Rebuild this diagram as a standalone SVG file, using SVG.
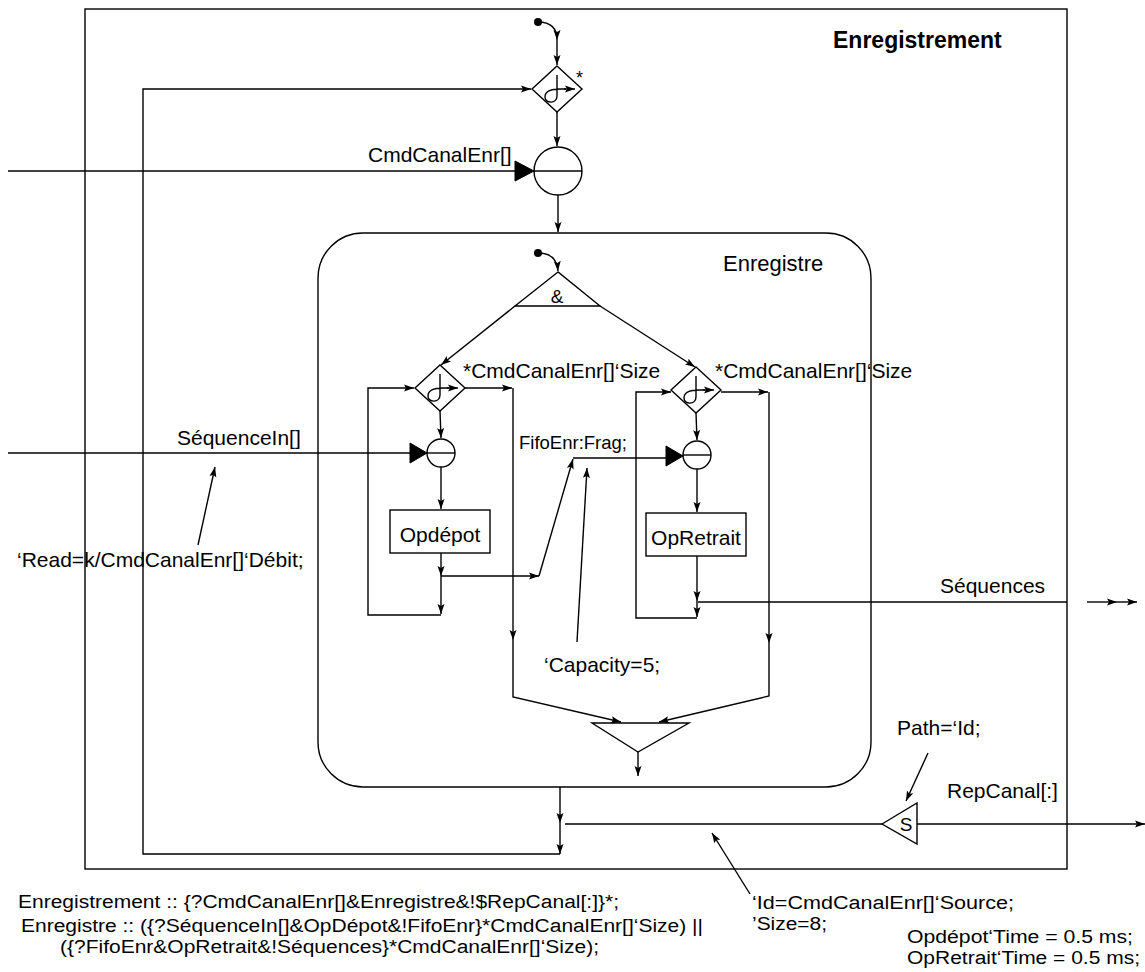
<svg xmlns="http://www.w3.org/2000/svg" width="1145" height="972" viewBox="0 0 1145 972">
  <defs>
    <marker id="arr" markerUnits="userSpaceOnUse" markerWidth="11" markerHeight="8" refX="10" refY="4" orient="auto">
      <path d="M0,0.5 L10,4 L0,7.5 L2,4 z" fill="#000"/>
    </marker>
  </defs>
  <style>
    .ln{fill:none;stroke:#000;stroke-width:1.4}
    .sh{fill:#fff;stroke:#000;stroke-width:1.4}
    .a{marker-end:url(#arr)}
    .fill{fill:#000;stroke:#000;stroke-width:1}
    text{font-family:"Liberation Sans",Arial,Helvetica,sans-serif;font-size:21px;fill:#000}
    .mid{text-anchor:middle}
    .sm{font-size:18px}
  </style>
  <rect width="1145" height="972" fill="#fff"/>

  <!-- outer process -->
  <g id="enregistrement">
    <rect class="ln" x="85" y="9" width="982" height="860"/>
    <text x="833" y="48" style="font-weight:bold;font-size:23px">Enregistrement</text>
  </g>

  <!-- inner process -->
  <g id="enregistre">
    <rect class="ln" x="318" y="233" width="553" height="554" rx="45" ry="45"/>
    <text x="723" y="271" style="font-size:22px">Enregistre</text>
  </g>

  <g id="connectors">
    <!-- outer start and iteration loop -->
    <path class="ln a" d="M538,22 C550,22 557,28 557,40"/>
    <path class="ln a" d="M557,40 L557,65"/>
    <path class="ln a" d="M560,854 L143,854 L143,89 L531,89"/>
    <path class="ln a" d="M557,112 L557,146"/>
    <path class="ln" d="M8,171 L515,171"/>
    <path class="ln a" d="M558,195 L558,232"/>
    <path class="ln a" d="M560,787 L560,823"/>
    <path class="ln a" d="M560,823 L560,854"/>

    <!-- inner start and split -->
    <path class="ln a" d="M538,253 C550,253 557,258 558,271"/>
    <path class="ln a" d="M515,306 L441,365"/>
    <path class="ln a" d="M600,306 L695,367"/>

    <!-- deposit branch -->
    <path class="ln a" d="M465,388 L512,388"/>
    <path class="ln a" d="M513,388 L513,640"/>
    <path class="ln a" d="M513,640 L513,697 L621,722"/>
    <path class="ln a" d="M440,411 L441,438"/>
    <path class="ln" d="M8,453 L410,453"/>
    <path class="ln a" d="M441,467 L441,509"/>
    <path class="ln a" d="M441,553 L441,576"/>
    <path class="ln a" d="M441,576 L441,614"/>
    <path class="ln a" d="M441,615 L368,615 L368,388 L414,388"/>
    <path class="ln a" d="M441,576 L539,576"/>
    <path class="ln a" d="M539,576 L573,459"/>
    <path class="ln" d="M573,458 L666,458"/>

    <!-- withdrawal branch -->
    <path class="ln a" d="M721,392 L768,392"/>
    <path class="ln a" d="M769,392 L769,643"/>
    <path class="ln a" d="M769,643 L769,696 L659,722"/>
    <path class="ln a" d="M696,413 L697,440"/>
    <path class="ln a" d="M697,469 L697,512"/>
    <path class="ln a" d="M697,556 L697,601"/>
    <path class="ln a" d="M697,601 L697,617"/>
    <path class="ln a" d="M697,618 L636,618 L636,392 L671,392"/>
    <path class="ln" d="M698,602 L1067,602"/>
    <path class="ln a" d="M1087,602 L1117,602"/>
    <path class="ln a" d="M1117,602 L1137,602"/>

    <!-- join -->
    <path class="ln a" d="M638,752 L638,776"/>

    <!-- reply channel -->
    <path class="ln a" d="M917,824 L1145,824"/>
    <path class="ln" d="M882,824 L565,824"/>

    <!-- annotation pointers -->
    <path class="ln a" d="M198,545 L215,467"/>
    <path class="ln a" d="M577,642 L587,468"/>
    <path class="ln a" d="M928,753 L906,801"/>
    <path class="ln a" d="M750,894 L712,833"/>
  </g>

  <!-- start markers -->
  <g id="start-outer"><circle cx="538" cy="22" r="4" fill="#000"/></g>
  <g id="start-inner"><circle cx="538" cy="253" r="4" fill="#000"/></g>

  <!-- outer iteration -->
  <g id="loop-outer">
    <polygon class="sh" points="557,66 582,89 557,112 532,89"/>
    <path class="ln" d="M557,75 L557,96 C557,104 545,104 545,97 C545,91 552,89 560,89 L566,89"/>
    <path class="ln a" d="M564,89 L575,89"/>
    <text x="576" y="84" style="font-size:18px">*</text>
  </g>

  <!-- command reception -->
  <g id="recv-cmd">
    <circle class="sh" cx="558" cy="171" r="24"/>
    <path class="ln" d="M534,171 L582,171"/>
    <polygon class="fill" points="515,161 534,171 515,181"/>
    <text x="368" y="162">CmdCanalEnr[]</text>
  </g>

  <!-- parallel split -->
  <g id="split">
    <polygon class="sh" points="558,272 515,306 600,306"/>
    <text class="mid" x="557" y="303" style="font-size:19px">&amp;</text>
  </g>

  <!-- deposit iteration -->
  <g id="loop-depot">
    <polygon class="sh" points="440,365 465,388 440,411 415,388"/>
    <path class="ln" d="M440,374 L440,395 C440,403 428,403 428,396 C428,390 435,388 443,388 L449,388"/>
    <path class="ln a" d="M447,388 L458,388"/>
    <text x="463" y="378">*CmdCanalEnr[]‘Size</text>
  </g>

  <g id="recv-seq">
    <circle class="sh" cx="441" cy="453" r="14"/>
    <path class="ln" d="M427,453 L455,453"/>
    <polygon class="fill" points="410,443 427,453 410,463"/>
    <text x="177" y="445">SéquenceIn[]</text>
  </g>

  <g id="opdepot">
    <rect class="sh" x="390" y="510" width="100" height="43"/>
    <text class="mid" x="440" y="542">Opdépot</text>
  </g>

  <!-- withdrawal iteration -->
  <g id="loop-retrait">
    <polygon class="sh" points="696,367 721,390 696,413 671,390"/>
    <path class="ln" d="M696,376 L696,397 C696,405 684,405 684,398 C684,392 691,390 699,390 L705,390"/>
    <path class="ln a" d="M703,390 L714,390"/>
    <text x="715" y="378">*CmdCanalEnr[]‘Size</text>
  </g>

  <g id="recv-fifo">
    <circle class="sh" cx="697" cy="455" r="14"/>
    <path class="ln" d="M683,455 L711,455"/>
    <polygon class="fill" points="666,446 683,456 666,466"/>
    <text x="519" y="449" style="font-size:18.5px">FifoEnr:Frag;</text>
  </g>

  <g id="opretrait">
    <rect class="sh" x="646" y="513" width="100" height="43"/>
    <text class="mid" x="696" y="545">OpRetrait</text>
  </g>

  <!-- parallel join -->
  <g id="join">
    <polygon class="sh" points="592,723 689,723 638,752"/>
  </g>

  <!-- reply send -->
  <g id="send-rep">
    <polygon class="sh" points="882,824 917,803 917,844"/>
    <text class="mid" x="906" y="831" style="font-size:19px">S</text>
    <text x="947" y="798">RepCanal[:]</text>
  </g>

  <!-- output label -->
  <g id="out-seq">
    <text x="940" y="593">Séquences</text>
  </g>

  <!-- attribute notes -->
  <g id="notes">
    <text x="17" y="567">‘Read=k/CmdCanalEnr[]‘Débit;</text>
    <text x="544" y="672">‘Capacity=5;</text>
    <text x="897" y="735">Path=‘Id;</text>
    <text class="sm" x="752" y="909" textLength="262" lengthAdjust="spacingAndGlyphs">‘Id=CmdCanalEnr[]‘Source;</text>
    <text class="sm" x="752" y="930" textLength="75" lengthAdjust="spacingAndGlyphs">’Size=8;</text>
    <text class="sm" x="907" y="943" textLength="226" lengthAdjust="spacingAndGlyphs">Opdépot‘Time = 0.5 ms;</text>
    <text class="sm" x="907" y="964" textLength="233" lengthAdjust="spacingAndGlyphs">OpRetrait‘Time = 0.5 ms;</text>
  </g>

  <!-- process expressions -->
  <g id="expressions">
    <text class="sm" x="18" y="908" textLength="601" lengthAdjust="spacingAndGlyphs">Enregistrement :: {?CmdCanalEnr[]&amp;Enregistre&amp;!$RepCanal[:]}*;</text>
    <text class="sm" x="21" y="932" textLength="682" lengthAdjust="spacingAndGlyphs">Enregistre :: ({?SéquenceIn[]&amp;OpDépot&amp;!FifoEnr}*CmdCanalEnr[]‘Size) ||</text>
    <text class="sm" x="60" y="953" textLength="539" lengthAdjust="spacingAndGlyphs">({?FifoEnr&amp;OpRetrait&amp;!Séquences}*CmdCanalEnr[]‘Size);</text>
  </g>
</svg>
